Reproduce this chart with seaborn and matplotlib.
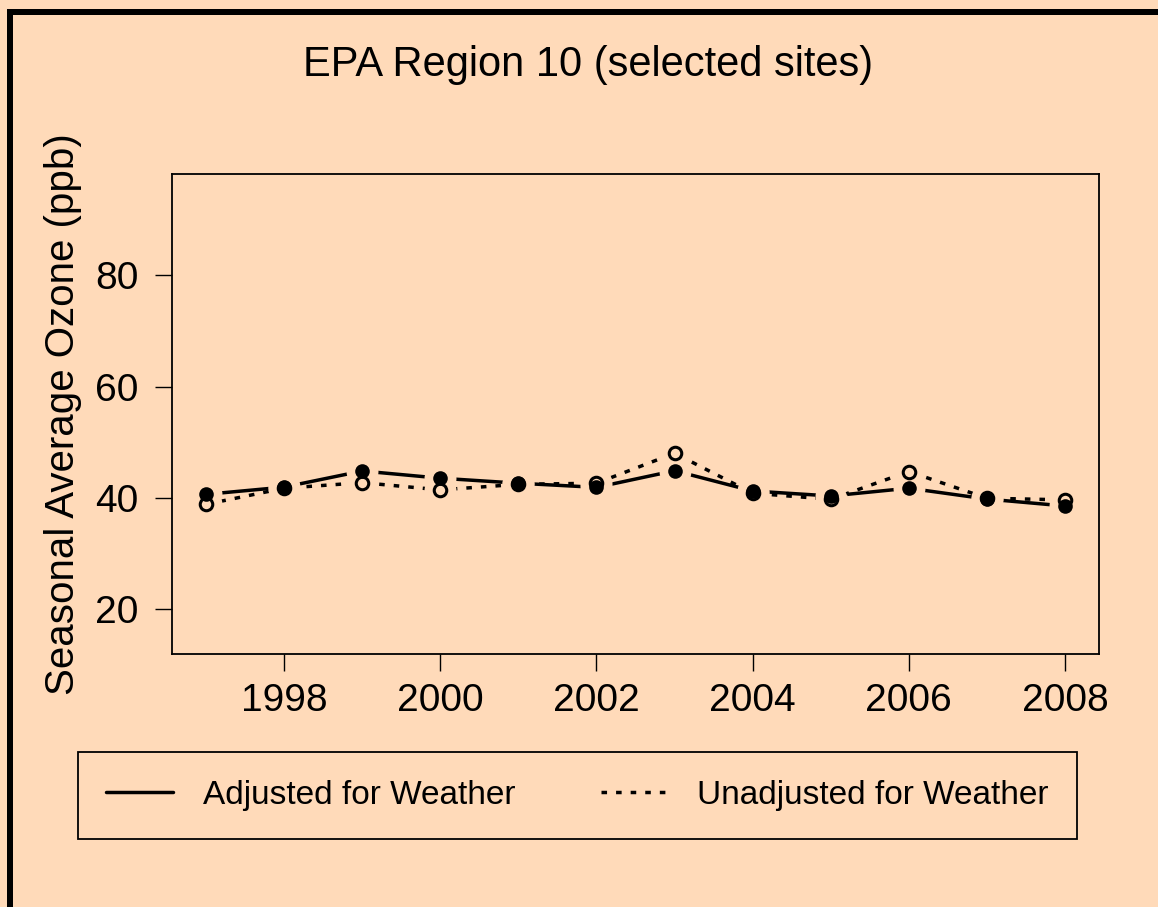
import numpy as np
import pandas as pd
import seaborn as sns
import matplotlib.pyplot as plt
from matplotlib.lines import Line2D
from matplotlib.patches import Rectangle

# seasonal average ozone, EPA region 10
years = [1997, 1998, 1999, 2000, 2001, 2002, 2003, 2004, 2005, 2006, 2007, 2008]
adjusted = [40.6, 41.9, 44.8, 43.5, 42.6, 41.85, 44.85, 41.2, 40.3, 41.7, 39.75, 38.5]
unadjusted = [38.8, 41.7, 42.7, 41.4, 42.4, 42.6, 48.0, 40.8, 39.7, 44.7, 39.9, 39.6]
xticks = [1998, 2000, 2002, 2004, 2006, 2008]
yticks = [20, 40, 60, 80]

bg = "#FFDAB9"
sns.set_style("ticks")
plt.rcParams["font.family"] = ["Liberation Sans", "DejaVu Sans"]
plt.rcParams["text.color"] = "black"
plt.rcParams["axes.labelcolor"] = "black"
plt.rcParams["xtick.color"] = "black"
plt.rcParams["ytick.color"] = "black"

fig = plt.figure(figsize=(11.58, 9.07), dpi=100, facecolor=bg)
ax = fig.add_axes([0.1483, 0.2786, 0.801, 0.5292])
ax.set_facecolor(bg)

dotted = (0, (1.6, 2.6))
# lines, with a background coloured disc at each point to leave a gap (R type="b")
sns.lineplot(x=years, y=adjusted, color="black", lw=2.5, marker="o", ms=23,
             mfc=bg, mew=0, ax=ax)
sns.lineplot(x=years, y=unadjusted, color="black", lw=2.5, linestyle=dotted, marker="o",
             ms=23, mfc=bg, mew=0, ax=ax)
# the points themselves
sns.lineplot(x=years, y=adjusted, color="black", linestyle="", marker="o", ms=10.5,
             mfc="black", mew=0, ax=ax)
sns.lineplot(x=years, y=unadjusted, color="black", linestyle="", marker="o", ms=9,
             mfc="none", mec="black", mew=2.2, ax=ax)

ax.set_xlim(1996.56, 2008.44)
ax.set_ylim(11.8, 98.2)
ax.set_xticks(xticks)
ax.set_yticks(yticks)
ax.tick_params(labelsize=28, length=12, width=1, direction="out", color="black")
ax.tick_params(axis="x", pad=9)
ax.tick_params(axis="y", pad=12)
for s in ax.spines.values():
    s.set_visible(True)
    s.set_linewidth(1.3)
    s.set_color("black")

ax.set_xlabel("")
ax.set_ylabel("Seasonal Average Ozone (ppb)", fontsize=29)
ax.yaxis.set_label_coords(-0.097, 0.5)

fig.text(0.508, 1 - 65 / 907, "EPA Region 10 (selected sites)", fontsize=30,
         ha="center", va="center")

handles = [Line2D([], [], color="black", lw=2.5),
           Line2D([], [], color="black", lw=2.5, linestyle=dotted)]
labels = ["Adjusted for Weather", "Unadjusted for Weather"]
leg = fig.legend(handles, labels, loc="center", ncol=2, mode="expand",
                 bbox_to_anchor=(0.0674, 0.0761, 0.8627, 0.0937), fontsize=24,
                 frameon=True, fancybox=False, handlelength=2.0, handletextpad=0.9,
                 columnspacing=2.0, borderpad=0.85, borderaxespad=0)
leg.get_frame().set_facecolor(bg)
leg.get_frame().set_edgecolor("black")
leg.get_frame().set_linewidth(1.3)
leg.get_frame().set_alpha(1)

# thick border on the left and top edges
fig.add_artist(Rectangle((7 / 1158, 0), 6 / 1158, 1 - 9 / 907, transform=fig.transFigure,
                         color="black", lw=0))
fig.add_artist(Rectangle((7 / 1158, 1 - 15 / 907), 1, 6 / 907, transform=fig.transFigure,
                         color="black", lw=0))

fig.savefig("out.png", dpi=100, facecolor=bg)
